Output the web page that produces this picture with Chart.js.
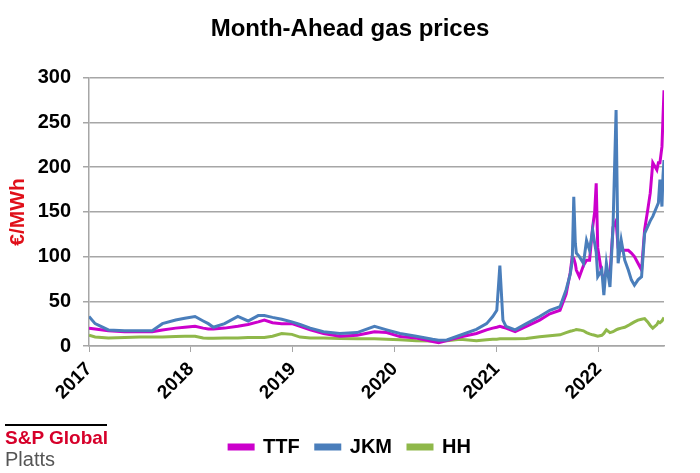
<!DOCTYPE html>
<html>
<head>
<meta charset="utf-8">
<script src="https://cdn.jsdelivr.net/npm/chart.js@4"></script>
<style>
  body { margin: 0; background: #fff; }
  #wrap { position: relative; width: 700px; height: 473px; }
  .logo-line { position: absolute; left: 5px; top: 424px; width: 102px; height: 2px; background: #000; }
  .logo-sp { position: absolute; left: 5px; top: 427px; font: bold 19px 'Liberation Sans', Arial, sans-serif; color: #d6002a; }
  .logo-platts { position: absolute; left: 5px; top: 448px; font: 20px 'Liberation Sans', Arial, sans-serif; color: #555; }
</style>
</head>
<body>
<div id="wrap">
  <canvas id="gasChart"></canvas>
  <div class="logo-line"></div>
  <div class="logo-sp">S&amp;P Global</div>
  <div class="logo-platts">Platts</div>
</div>
<script>
// dates as decimal years, values in EUR/MWh
const dates = [
  2017.00, 2017.06, 2017.19, 2017.35, 2017.50, 2017.62, 2017.72, 2017.85, 2017.94,
  2018.04, 2018.12, 2018.17, 2018.22, 2018.33, 2018.46, 2018.56, 2018.66, 2018.72, 2018.80, 2018.89, 2018.99,
  2019.07, 2019.17, 2019.30, 2019.46, 2019.63, 2019.80, 2019.92,
  2020.05, 2020.21, 2020.37, 2020.43, 2020.51, 2020.64, 2020.80, 2020.90, 2020.96,
  2021.00, 2021.03, 2021.06, 2021.09, 2021.18, 2021.29, 2021.42, 2021.52,
  2021.62, 2021.68, 2021.72, 2021.74, 2021.755, 2021.77, 2021.78, 2021.81, 2021.85, 2021.88, 2021.91,
  2021.94, 2021.96, 2021.975, 2021.99, 2022.03, 2022.05, 2022.075, 2022.11, 2022.14, 2022.17, 2022.19,
  2022.22, 2022.255, 2022.29, 2022.32, 2022.35, 2022.385, 2022.42, 2022.45, 2022.48, 2022.505, 2022.53,
  2022.57, 2022.585, 2022.60, 2022.62, 2022.63, 2022.64
];
const ttf = [
  20, 19, 17, 16, 16, 16, 18, 20, 21,
  22, 20, 19, 19, 20, 22, 24, 27, 29, 26, 25, 25,
  22, 18, 14, 11, 12, 16, 15,
  10.5, 9, 5, 3.7, 6, 10, 14, 18, 20,
  21, 22, 21, 20, 16, 22, 29, 36,
  40, 58, 82, 100, 98, 92, 85, 77.5, 90, 96, 96,
  133, 150, 182, 110, 80, 74, 85, 80, 133, 140, 110,
  107, 107, 107, 104, 100, 92.5, 85, 130, 152, 171, 205,
  197, 205, 205, 223, 255, 286
];
const jkm = [
  33, 25, 18, 17, 17, 17, 25, 29, 31,
  33, 28, 25, 21, 25, 33, 28, 34, 34, 32, 30, 27,
  24, 20, 16, 14, 15, 22, 18,
  14, 11, 7.5, 6.5, 6.7, 12, 18.6, 25, 33,
  40, 90, 29, 22, 18, 25, 33, 40,
  44, 63, 80, 95, 167, 115, 104, 100, 92.5, 118, 107,
  130, 115, 105, 77.5, 85, 57, 92.5, 66, 133.5, 264, 92.5,
  118.6, 96, 85, 74, 68, 74, 77.5, 126, 133.5, 140, 145,
  156, 160, 186, 156, 190, 208
];
const hh = [
  12, 10, 9, 9.5, 10, 10, 10, 10.5, 11,
  11, 9, 8.6, 8.6, 9, 9, 9.5, 9.5, 9.5, 11, 14, 13,
  10, 9, 9, 8.5, 8, 8, 7.5,
  7, 6, 5.5, 5.5, 6, 7.5, 6, 7, 7.5,
  7.5, 8, 8, 8, 8, 8.5, 10.4, 11.5,
  12.5, 15, 16.5, 17, 17.5, 18, 18.5, 18, 17, 15, 13.5,
  12.5, 12, 11.5, 11, 12, 14, 18, 15, 16, 18, 19,
  20, 21, 23, 25, 27, 29, 30, 30.6, 27, 23, 20,
  24, 27, 26, 28, 30, 32
];
const yearTicks = [2017, 2018, 2019, 2020, 2021, 2022];

const toPoints = values => dates.map((d, i) => ({ x: d, y: values[i] }));

Chart.defaults.font.family = "'Liberation Sans', Arial, sans-serif";
Chart.defaults.color = '#000';

const gridGray = '#a6a6a6';

const ctx = document.getElementById('gasChart').getContext('2d');
const gasChart = new Chart(ctx, {
    type: 'line',
    data: {
        datasets: [
            { label: 'TTF', data: toPoints(ttf), borderColor: '#cc00cc', backgroundColor: '#cc00cc', order: 2 },
            { label: 'JKM', data: toPoints(jkm), borderColor: '#4a7ebb', backgroundColor: '#4a7ebb', order: 1 },
            { label: 'HH', data: toPoints(hh), borderColor: '#8fb84a', backgroundColor: '#8fb84a', order: 3 }
        ]
    },
    options: {
        responsive: true,
        maintainAspectRatio: false,
        animation: false,
        layout: { padding: { left: 0, right: 0, top: 0, bottom: 6 } },
        elements: {
            line: { borderWidth: 3, tension: 0 },
            point: { radius: 0 }
        },
        scales: {
            x: {
                type: 'linear',
                min: 2017,
                max: 2022.64,
                afterFit: scale => { scale.height = 75; },
                afterBuildTicks: scale => { scale.ticks = yearTicks.map(v => ({ value: v })); },
                grid: { drawOnChartArea: false, color: gridGray, tickLength: 6 },
                border: { color: gridGray, width: 1.5 },
                ticks: {
                    autoSkip: false,
                    minRotation: 45,
                    maxRotation: 45,
                    padding: 6,
                    font: { size: 19, weight: 'bold' },
                    callback: v => String(v)
                }
            },
            y: {
                min: 0,
                max: 300,
                afterFit: scale => { scale.width = 89; },
                grid: { color: gridGray, lineWidth: 1.5, tickLength: 6 },
                border: { color: gridGray, width: 1.5 },
                ticks: { stepSize: 50, padding: 12, font: { size: 20, weight: 'bold' } },
                title: {
                    display: true,
                    text: '€/MWh',
                    color: '#e0101a',
                    font: { size: 21, weight: 'bold' },
                    padding: { top: 6, bottom: 0 }
                }
            },
            // empty right axis only reserves the space right of the plot
            y2: {
                position: 'right',
                afterFit: scale => { scale.width = 36; },
                grid: { display: false },
                border: { display: false },
                ticks: { display: false }
            }
        },
        plugins: {
            title: {
                display: true,
                text: 'Month-Ahead gas prices',
                color: '#000',
                font: { size: 24, weight: 'bold' },
                padding: { top: 15, bottom: 34 }
            },
            legend: {
                position: 'bottom',
                labels: {
                    boxWidth: 24,
                    boxHeight: 4,
                    padding: 16,
                    font: { size: 20, weight: 'bold' },
                    sort: (a, b) => a.datasetIndex - b.datasetIndex
                }
            },
            tooltip: { enabled: false }
        }
    }
});
</script>
</body>
</html>
